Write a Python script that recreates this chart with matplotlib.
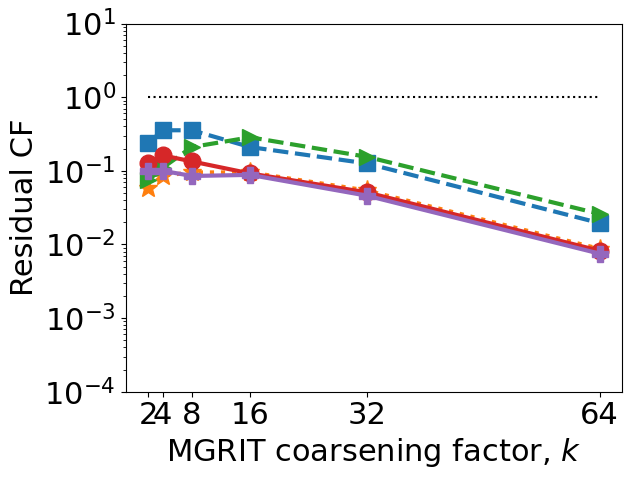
import numpy as np
import matplotlib
matplotlib.use("Agg")
import matplotlib.pyplot as plt

k = [2, 4, 8, 16, 32, 64]
cf_square = [0.236, 0.355, 0.355, 0.21, 0.126, 0.0195]
cf_star = [0.059, 0.086, 0.095, 0.095, 0.054, 0.0087]
cf_tri = [0.074, 0.11, 0.21, 0.285, 0.155, 0.026]
cf_circle = [0.126, 0.162, 0.134, 0.092, 0.051, 0.0082]
cf_plus = [0.1, 0.1, 0.085, 0.088, 0.046, 0.0075]
bound = [1.0] * len(k)

plt.figure(figsize=(6.31, 4.8), dpi=100)
plt.semilogy(k, cf_square, 's--', color='C0', lw=3, ms=12)
plt.semilogy(k, cf_star, '*:', color='C1', lw=3, ms=14)
plt.semilogy(k, cf_tri, '>--', color='C2', lw=3, ms=12)
plt.semilogy(k, cf_circle, 'o-', color='C3', lw=3, ms=12)
plt.semilogy(k, cf_plus, 'P-', color='C4', lw=3, ms=12)
plt.semilogy(k, bound, 'k:', lw=1.5)
plt.ylim(1e-4, 1e1)
plt.xticks(k, fontsize=22)
plt.yticks([1e-4, 1e-3, 1e-2, 1e-1, 1e0, 1e1], fontsize=22)
plt.xlabel("MGRIT coarsening factor, $k$", size=22)
plt.ylabel("Residual CF", size=22)
plt.subplots_adjust(left=0.199, right=0.986, top=0.951, bottom=0.184)
plt.savefig("out.png")
